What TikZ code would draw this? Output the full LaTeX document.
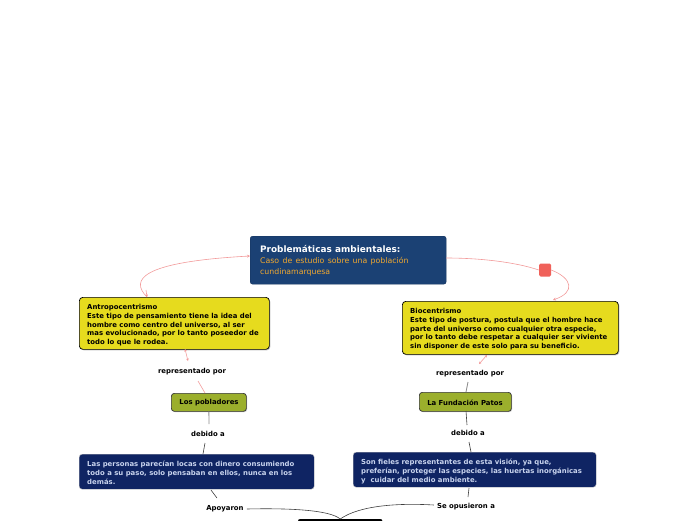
\documentclass[tikz,border=0pt]{standalone}
\usepackage{fontspec}
\setmainfont{DejaVu Sans}
\usetikzlibrary{arrows.meta,shadows}
\definecolor{titleblue}{HTML}{1B4174}
\definecolor{subor}{HTML}{F0A830}
\definecolor{ybox}{HTML}{E6DB1E}
\definecolor{gbox}{HTML}{9BAF2C}
\definecolor{nbox}{HTML}{0F2463}
\definecolor{ntext}{HTML}{C9D4EE}
\definecolor{pinkl}{HTML}{F29A9A}
\definecolor{redsq}{HTML}{F0615A}
\definecolor{grayl}{HTML}{8A8A8A}
\tikzset{
  smalltxt/.style={font=\fontsize{6.9}{8.8}\selectfont\bfseries, inner sep=0pt, align=left},
  titlebox/.style={draw=titleblue!80!black, fill=titleblue, rounded corners=2.5pt, anchor=north west, inner sep=0pt},
  ybx/.style={draw=black, line width=0.7pt, fill=ybox, rounded corners=3.5pt, anchor=north west, inner sep=0pt, drop shadow={shadow xshift=1pt,shadow yshift=-1pt,fill=black!40,opacity=0.6}},
  gbx/.style={draw=black!80, line width=0.7pt, fill=gbox, rounded corners=3pt, anchor=north west, inner sep=0pt, drop shadow={shadow xshift=0.8pt,shadow yshift=-0.8pt,fill=black!40,opacity=0.6}},
  nbx/.style={draw=black!25!white, line width=0.4pt, fill=nbox, rounded corners=3pt, anchor=north west, inner sep=0pt},
  lbl/.style={font=\fontsize{6.9}{8}\selectfont\bfseries, inner sep=1pt},
  pk/.style={draw=pinkl, line width=0.6pt},
  gl/.style={draw=grayl, line width=0.8pt},
  dl/.style={draw=black!75, line width=0.6pt},
  tip/.style={-{Stealth[length=3pt,width=3pt]}},
}
\begin{document}
\begin{tikzpicture}[x=1pt,y=-1pt]
\useasboundingbox (0,0) rectangle (696,520);
% boxes
\node[titlebox, minimum width=196pt, minimum height=48pt] (title) at (250,236) {};
\node[anchor=north west, inner sep=0pt, align=left, text width=185pt] (titletxt) at (260,245.5)
  {\fontsize{8.9}{11}\selectfont\textcolor{white}{\bfseries Problemáticas ambientales:}\\[-0.8pt]
   \fontsize{7.8}{11}\selectfont\textcolor{subor}{Caso de estudio sobre una población}\\[-0.8pt]
   \textcolor{subor}{cundinamarquesa}};
\node[ybx, minimum width=190pt, minimum height=52pt] (antro) at (79,297) {};
\node[smalltxt, anchor=north west] (antrotxt) at (87,304) {Antropocentrismo\\Este tipo de pensamiento tiene la idea del\\hombre como centro del universo, al ser\\mas evolucionado, por lo tanto poseedor de\\todo lo que le rodea.};
\node[ybx, minimum width=216pt, minimum height=53pt] (bio) at (402,301) {};
\node[smalltxt, anchor=north west] (biotxt) at (410,308) {Biocentrismo\\Este tipo de postura, postula que el hombre hace\\parte del universo como cualquier otra especie,\\por lo tanto debe respetar a cualquier ser viviente\\sin disponer de este solo para su beneficio.};
\node[lbl] (rep1) at (192,372) {representado por};
\node[lbl] (rep2) at (470,374) {representado por};
\node[gbx, minimum width=75pt, minimum height=18pt] (pob) at (171,393) {};
\node[lbl] (pobtxt) at (209,402.5) {Los pobladores};
\node[gbx, minimum width=92pt, minimum height=19pt] (fun) at (419,392) {};
\node[lbl] (funtxt) at (465,402.5) {La Fundación Patos};
\node[lbl] (deb1) at (208,434) {debido a};
\node[lbl] (deb2) at (468,433) {debido a};
\node[nbx, minimum width=235pt, minimum height=35pt] (lb) at (79,454) {};
\node[smalltxt, anchor=north west, text=ntext] (lbtxt) at (87,461) {Las personas parecían locas con dinero consumiendo\\todo a su paso, solo pensaban en ellos, nunca en los\\demás.};
\node[nbx, minimum width=243pt, minimum height=35pt] (rb) at (353,452) {};
\node[smalltxt, anchor=north west, text=ntext] (rbtxt) at (361,459) {Son fieles representantes de esta visión, ya que,\\preferían, proteger las especies, las huertas inorgánicas\\y\ \ cuidar del medio ambiente.};
\node[lbl] (apo) at (225,509) {Apoyaron};
\node[lbl] (opu) at (466,507) {Se opusieron a};
\node[draw=black, fill=black, minimum width=84pt, minimum height=12pt, anchor=north west, inner sep=0pt, rounded corners=2pt] (bot) at (298,519) {};
\node[fill=redsq, rounded corners=1.5pt, minimum width=12pt, minimum height=13pt, inner sep=0pt] (sq) at (545,270) {};
% connectors
\coordinate (a1) at (147,297);
\coordinate (t1) at (250,256);
\draw[pk,tip] (a1) .. controls (130,280) and (140,262) .. (t1);
\draw[pk,-{Stealth[length=2.5pt,width=2.5pt]}] (146,290) -- (a1);
\coordinate (t2) at (446,258);
\draw[pk] (t2) .. controls (480,258) and (515,262) .. (sq.west);
\coordinate (b1) at (553,300);
\draw[pk,tip] (sq.east) .. controls (572,278) and (576,292) .. (b1);
\coordinate (a2) at (185,349);
\coordinate (r1) at (188,361);
\draw[pk,{Stealth[length=2.5pt,width=2.5pt]}-{Stealth[length=2.5pt,width=2.5pt]}] (a2) -- (r1);
\coordinate (r1b) at (198,381);
\coordinate (p1) at (205,393);
\draw[pk] (r1b) -- (p1);
\coordinate (b2) at (487,355);
\coordinate (r2) at (479,364);
\draw[pk,{Stealth[length=2.5pt,width=2.5pt]}-{Stealth[length=2.5pt,width=2.5pt]}] (b2) -- (r2);
\draw[gl] (468,382) -- (466,392);
\draw[gl] (pob.south) -- (209,424);
\draw[dl] (205,443) -- (203,454);
\draw[dl] (466,411) -- (467,425);
\draw[dl] (469,442) -- (471,452);
\draw[dl] (211,490) -- (217,498);
\draw[dl] (469,488) -- (468,497);
\draw[dl] (apo.east) ++(2,0) .. controls (290,508) and (330,510) .. (bot.north);
\draw[dl] (opu.west) ++(-2,-2) .. controls (400,503) and (360,505) .. (bot.north);
\end{tikzpicture}
\end{document}
